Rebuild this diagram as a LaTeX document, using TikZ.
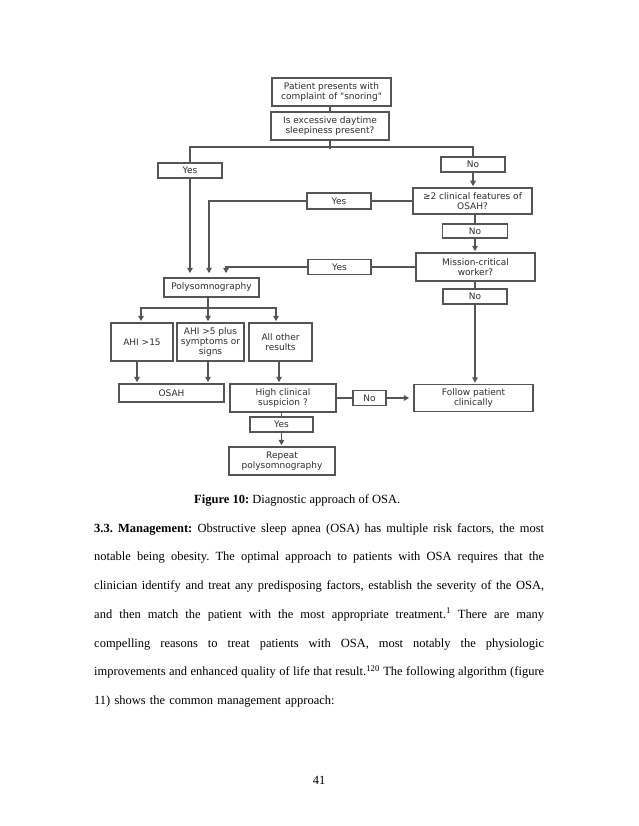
\documentclass[tikz,border=0pt]{standalone}
\usepackage{fontspec}
\setmainfont{Liberation Serif}
\newfontfamily\flowfont{DejaVu Sans}
\usetikzlibrary{arrows.meta}
\definecolor{linegray}{HTML}{555555}
\definecolor{textgray}{HTML}{2E2E2E}
\newcommand{\jline}[1]{\leavevmode\hbox to 450pt{\spaceskip=0pt\xspaceskip=0pt #1}}

\begin{document}
\begin{tikzpicture}[x=1pt,y=-1pt,
  box/.style={draw=linegray,line width=1.5pt,inner sep=0pt,align=center,text=textgray,
    font=\flowfont\fontsize{9}{10}\selectfont},
  link/.style={draw=linegray,line width=1.5pt},
  arr/.style={link,-{Triangle[length=5.5pt,width=5.5pt]},shorten >=1pt},
  body/.style={font=\fontsize{12.5}{28.75}\selectfont\frenchspacing,inner sep=0pt}]

\fill[white] (0,0) rectangle (638,826);
\useasboundingbox (0,0) rectangle (638,826);

\draw (331.5,92) node(PATIENT)[box,minimum width=119,minimum height=28]{Patient presents with\\complaint of "snoring"};
\draw (330,126) node(SLEEPY)[box,minimum width=118,minimum height=28]{Is excessive daytime\\sleepiness present?};
\draw (190,170.5) node(YESA)[box,minimum width=64,minimum height=15]{Yes};
\draw (473,164.5) node(NOA)[box,minimum width=64,minimum height=15]{No};
\draw (472.5,201) node(CLIN)[box,minimum width=119,minimum height=26]{≥2 clinical features of\\OSAH?};
\draw (339,201) node(YESB)[box,minimum width=64,minimum height=16]{Yes};
\draw (475,231) node(NOB)[box,minimum width=65,minimum height=14]{No};
\draw (475.5,267) node(MISSION)[box,minimum width=119,minimum height=28]{Mission-critical\\worker?};
\draw (339.5,267) node(YESC)[box,minimum width=63,minimum height=15]{Yes};
\draw (475,296.5) node(NOC)[box,minimum width=64,minimum height=15]{No};
\draw (211.5,287.5) node(POLY)[box,minimum width=95,minimum height=19]{Polysomnography};

\draw (142,342) node(AHIA)[box,minimum width=62,minimum height=38]{AHI >15};
\draw (210.5,342) node(AHIB)[box,minimum width=67,minimum height=38]{AHI >5 plus\\symptoms or\\signs};
\draw (280.5,342) node(OTHER)[box,minimum width=63,minimum height=38]{All other\\results};
\draw (171.5,393) node(OSAH)[box,minimum width=105,minimum height=18]{OSAH};
\draw (283,398) node(HIGH)[box,minimum width=106,minimum height=28]{High clinical\\suspicion ?};
\draw (369.5,398) node(NOD)[box,minimum width=33,minimum height=15]{No};
\draw (473.5,398) node(FOLLOW)[box,minimum width=119,minimum height=27]{Follow patient\\clinically};
\draw (281.5,424.5) node(YESD)[box,minimum width=63,minimum height=15]{Yes};
\draw (282,461) node(REPEAT)[box,minimum width=106,minimum height=28]{Repeat\\polysomnography};

\draw[link] (PATIENT.south -| SLEEPY.north) -- (SLEEPY.north);
\draw[link] (SLEEPY.south) -- ++(0,8);
\draw[link] (YESA.north) -- ++(0,-15) -| (NOA.north);

\draw[arr,shorten >=4pt] (YESA.south) -- (YESA.south |- POLY.north);
\draw[link] (CLIN.west) -- (YESB.east);
\draw[arr,shorten >=4pt] (YESB.west) -| ([xshift=-2.5pt]POLY.north);
\draw[link] (MISSION.west) -- (YESC.east);
\draw[arr,shorten >=4pt] (YESC.west) -| ([xshift=14.5pt]POLY.north);

\draw[arr] (NOA.south) -- (NOA.south |- CLIN.north);
\draw[link] (CLIN.south -| NOB.north) -- (NOB.north);
\draw[arr] (NOB.south) -- (NOB.south |- MISSION.north);
\draw[link] (MISSION.south -| NOC.north) -- (NOC.north);
\draw[arr] (NOC.south) -- (NOC.south |- FOLLOW.north);

\draw[link] ([xshift=-3.5pt]POLY.south) -- ++(0,10) coordinate(FORK);
\draw[arr] (FORK) -| ([xshift=-1pt]AHIA.north);
\draw[arr] (FORK) -- (FORK |- AHIB.north);
\draw[arr] (FORK) -| ([xshift=-4.5pt]OTHER.north);

\draw[arr] ([xshift=-5pt]AHIA.south) -- ([xshift=-5pt]AHIA.south |- OSAH.north);
\draw[arr] ([xshift=-2.5pt]AHIB.south) -- ([xshift=-2.5pt]AHIB.south |- OSAH.north);
\draw[arr] ([xshift=-1.5pt]OTHER.south) -- ([xshift=-1.5pt]OTHER.south |- HIGH.north);

\draw[link] (HIGH.east) -- (NOD.west);
\draw[arr,shorten >=4pt] (NOD.east) -- (NOD.east -| FOLLOW.west);
\draw[link] (YESD.north |- HIGH.south) -- (YESD.north);
\draw[arr] (YESD.south) -- (YESD.south |- REPEAT.north);

\draw (194,503) node(CAPTION)[body,anchor=base west]{\textbf{Figure 10:} Diagnostic approach of OSA.};

\draw (94,532) node(MANAGEMENT)[body,anchor=base west,text width=450pt]{%
\jline{\textbf{3.3. Management:} Obstructive sleep apnea (OSA) has multiple risk factors, the most}\\
\jline{notable being obesity. The optimal approach to patients with OSA requires that the}\\
\jline{clinician identify and treat any predisposing factors, establish the severity of the OSA,}\\
\jline{and then match the patient with the most appropriate treatment.\textsuperscript{1} There are many}\\
\jline{compelling reasons to treat patients with OSA, most notably the physiologic}\\
\jline{improvements and enhanced quality of life that result.\textsuperscript{120} The following algorithm (figure}\\
11) shows the common management approach:};

\draw (319,784) node(PAGENO)[body,anchor=base]{41};

\end{tikzpicture}
\end{document}
